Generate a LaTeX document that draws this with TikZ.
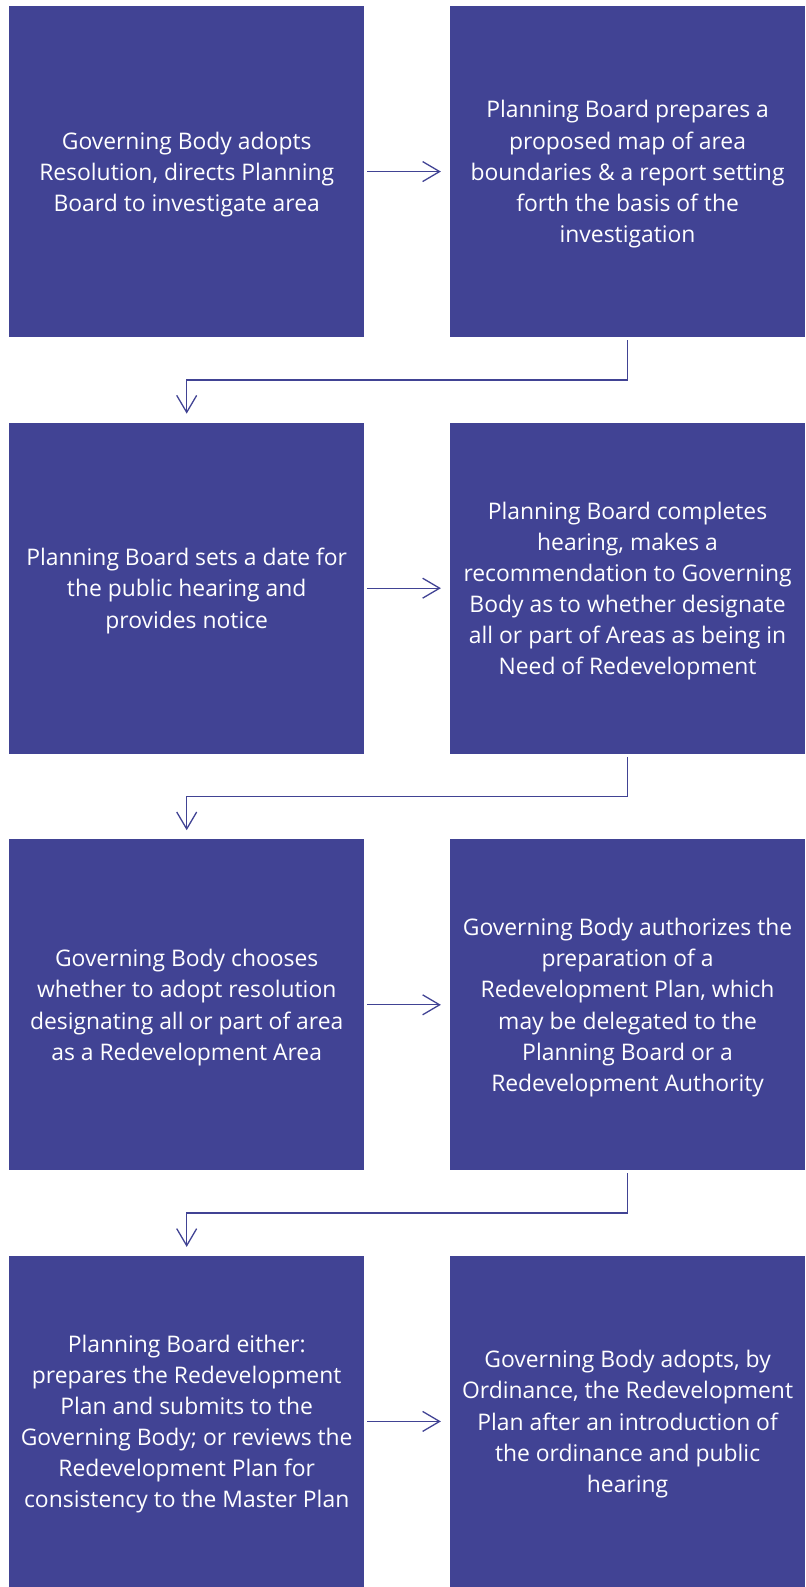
\documentclass[tikz,border=0pt]{standalone}
\usepackage{fontspec}
\setmainfont{Open Sans}
\usetikzlibrary{positioning,arrows.meta,calc}
\definecolor{boardblue}{RGB}{65,67,148}
\tikzset{
  main/.style={rectangle, fill=boardblue, text=white, minimum width=356bp, minimum height=331.7bp, inner sep=0pt, outer sep=0pt, align=center, font=\fontsize{23}{31.3}\selectfont, text depth=-6.5bp, node distance=85.6bp},
  connect/.style={-{Straight Barb[length=17bp,width=20bp]}, draw=boardblue, line width=1.3bp, shorten <=3bp, shorten >=9bp}
}

\begin{document}
\begin{tikzpicture}
	  \def\gap{42.8bp}

	  % Row 1
	  \node[main] (l1) {Governing Body adopts\\Resolution, directs Planning\\Board to investigate area};
	  \node[main] (r1) [right=of l1] {Planning Board prepares a\\proposed map of area\\boundaries \& a report setting\\forth the basis of the\\investigation};

	  % Row 2
	  \node[main] (l2) [below=of l1] {Planning Board sets a date for\\the public hearing and\\provides notice};
	  \node[main] (r2) [right=of l2] {Planning Board completes\\hearing, makes a\\recommendation to Governing\\Body as to whether designate\\all or part of Areas as being in\\Need of Redevelopment};

	  % Row 3
	  \node[main] (l3) [below=of l2] {Governing Body chooses\\whether to adopt resolution\\designating all or part of area\\as a Redevelopment Area};
	  \node[main] (r3) [right=of l3] {Governing Body authorizes the\\preparation of a\\Redevelopment Plan, which\\may be delegated to the\\Planning Board or a\\Redevelopment Authority};

	  % Row 4
	  \node[main] (l4) [below=of l3] {Planning Board either:\\prepares the Redevelopment\\Plan and submits to the\\Governing Body; or reviews the\\Redevelopment Plan for\\consistency to the Master Plan};
	  \node[main] (r4) [right=of l4] {Governing Body adopts, by\\Ordinance, the Redevelopment\\Plan after an introduction of\\the ordinance and public\\hearing};

	  % Arrows across
	  \foreach \n in {1,...,4} {
		\path (l\n) edge [connect] (r\n);
	  }

	  % Arrows down to the next row
	  \foreach \n [evaluate = \n as \m using (int(\n + 1))] in {1,2,3} {
		\draw[connect] (r\n.south) -- ++(0,-\gap) -| (l\m.north);
	  }

	  \useasboundingbox ($(l1.north west)+(-9bp,6bp)$) rectangle ++(807bp,-1587bp);
	\end{tikzpicture}
\end{document}
